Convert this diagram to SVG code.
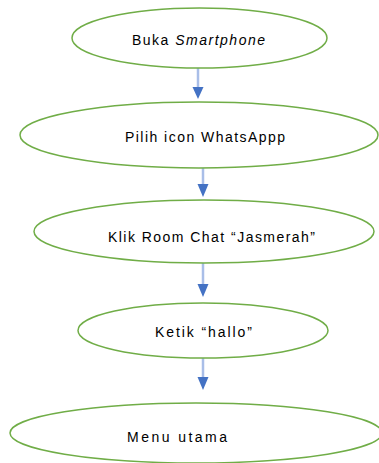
<svg xmlns="http://www.w3.org/2000/svg" width="379" height="463" viewBox="0 0 379 463">
<defs>
<style>
.node ellipse{fill:#fff;stroke:#70AD47;stroke-width:1.5}
.node text{font-family:"Liberation Sans","Open Sans",sans-serif;font-size:14px;fill:#000;text-anchor:start}
.conn line{stroke:#A9BEE8;stroke-width:2.5}
.conn path{fill:#4472C4}
</style>
</defs>
<rect width="379" height="463" fill="#fff"/>
<g class="conn" id="connectors">
<line x1="198" y1="68" x2="198" y2="88"/><path d="M192.5,87 L203.5,87 L198,99 Z"/>
<line x1="203" y1="168" x2="203" y2="185"/><path d="M197.5,184 L208.5,184 L203,197 Z"/>
<line x1="203" y1="263" x2="203" y2="285"/><path d="M197.5,284 L208.5,284 L203,297 Z"/>
<line x1="203" y1="358" x2="203" y2="378"/><path d="M197.5,377 L208.5,377 L203,390 Z"/>
</g>
<g class="node" id="n1"><ellipse cx="199.5" cy="38" rx="127.5" ry="30"/><text x="132" y="45" textLength="133" lengthAdjust="spacing">Buka <tspan font-style="italic">Smartphone</tspan></text></g>
<g class="node" id="n2"><ellipse cx="199" cy="135" rx="179" ry="33"/><text x="125" y="142" textLength="160" lengthAdjust="spacing">Pilih icon WhatsAppp</text></g>
<g class="node" id="n3"><ellipse cx="204" cy="231.5" rx="170" ry="31.5"/><text x="108" y="242" textLength="207" lengthAdjust="spacing">Klik Room Chat “Jasmerah”</text></g>
<g class="node" id="n4"><ellipse cx="203" cy="330.5" rx="125" ry="27.5"/><text x="155" y="337" textLength="97" lengthAdjust="spacing">Ketik “hallo”</text></g>
<g class="node" id="n5"><ellipse cx="196" cy="433" rx="186" ry="30"/><text x="127" y="442" textLength="100" lengthAdjust="spacing">Menu utama</text></g>
</svg>
